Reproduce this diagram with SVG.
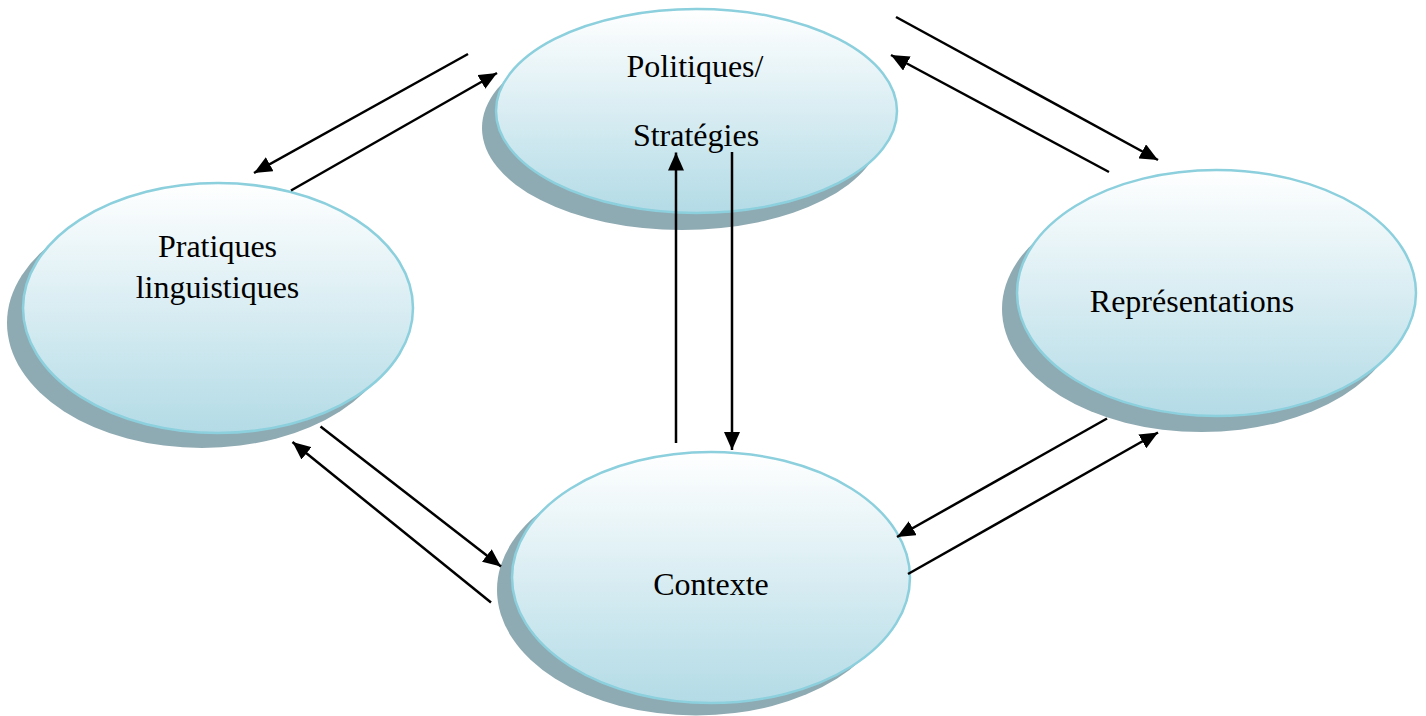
<svg xmlns="http://www.w3.org/2000/svg" width="1426" height="716" viewBox="0 0 1426 716">
<style>
.sh{fill:#8eaab2}
.el{fill:url(#g);stroke:#8ccfdd;stroke-width:2.5}
.t{font-family:"Liberation Serif","Times New Roman",serif;font-size:32px;fill:#000;text-anchor:middle}
.c{stroke:#000;stroke-width:2.5;fill:none;marker-end:url(#ah)}
</style>
<defs>
<linearGradient id="g" x1="0" y1="0" x2="0" y2="1">
<stop offset="0" stop-color="#ffffff"/>
<stop offset="1" stop-color="#b3dbe6"/>
</linearGradient>
<marker id="ah" markerUnits="userSpaceOnUse" markerWidth="18" markerHeight="16" refX="18" refY="8" orient="auto">
<path d="M0,0 L18,8 L0,16 z" fill="#000"/>
</marker>
</defs>
<rect width="1426" height="716" fill="#fff"/>
<g id="politiques">
<ellipse class="sh" cx="682" cy="128" rx="200" ry="102"/>
<ellipse class="el" cx="696.5" cy="111" rx="200.5" ry="102"/>
<text class="t" x="695" y="77">Politiques/</text>
<text class="t" x="696" y="146">Stratégies</text>
</g>
<g id="pratiques">
<ellipse class="sh" cx="202" cy="323" rx="195" ry="125"/>
<ellipse class="el" cx="218" cy="308" rx="195" ry="125"/>
<text class="t" x="217.5" y="257">Pratiques</text>
<text class="t" x="217.5" y="298">linguistiques</text>
</g>
<g id="representations">
<ellipse class="sh" cx="1201.5" cy="309" rx="199.5" ry="123"/>
<ellipse class="el" cx="1216.5" cy="293" rx="199.5" ry="123"/>
<text class="t" x="1192" y="312">Représentations</text>
</g>
<g id="contexte">
<ellipse class="sh" cx="696" cy="590" rx="199" ry="125.5"/>
<ellipse class="el" cx="711" cy="577.5" rx="199" ry="125.5"/>
<text class="t" x="711" y="595">Contexte</text>
</g>
<g id="connectors">
<line class="c" x1="468" y1="54" x2="254" y2="173"/>
<line class="c" x1="291" y1="190.5" x2="497" y2="73"/>
<line class="c" x1="896" y1="17" x2="1158" y2="160"/>
<line class="c" x1="1109" y1="172" x2="891" y2="55"/>
<line class="c" x1="676" y1="443" x2="676" y2="152.5"/>
<line class="c" x1="732" y1="152" x2="732" y2="450"/>
<line class="c" x1="320.5" y1="426.5" x2="501" y2="566.5"/>
<line class="c" x1="491" y1="602.5" x2="292.5" y2="442"/>
<line class="c" x1="1107" y1="418.5" x2="897" y2="537"/>
<line class="c" x1="908" y1="574" x2="1158" y2="432.5"/>
</g>
</svg>
